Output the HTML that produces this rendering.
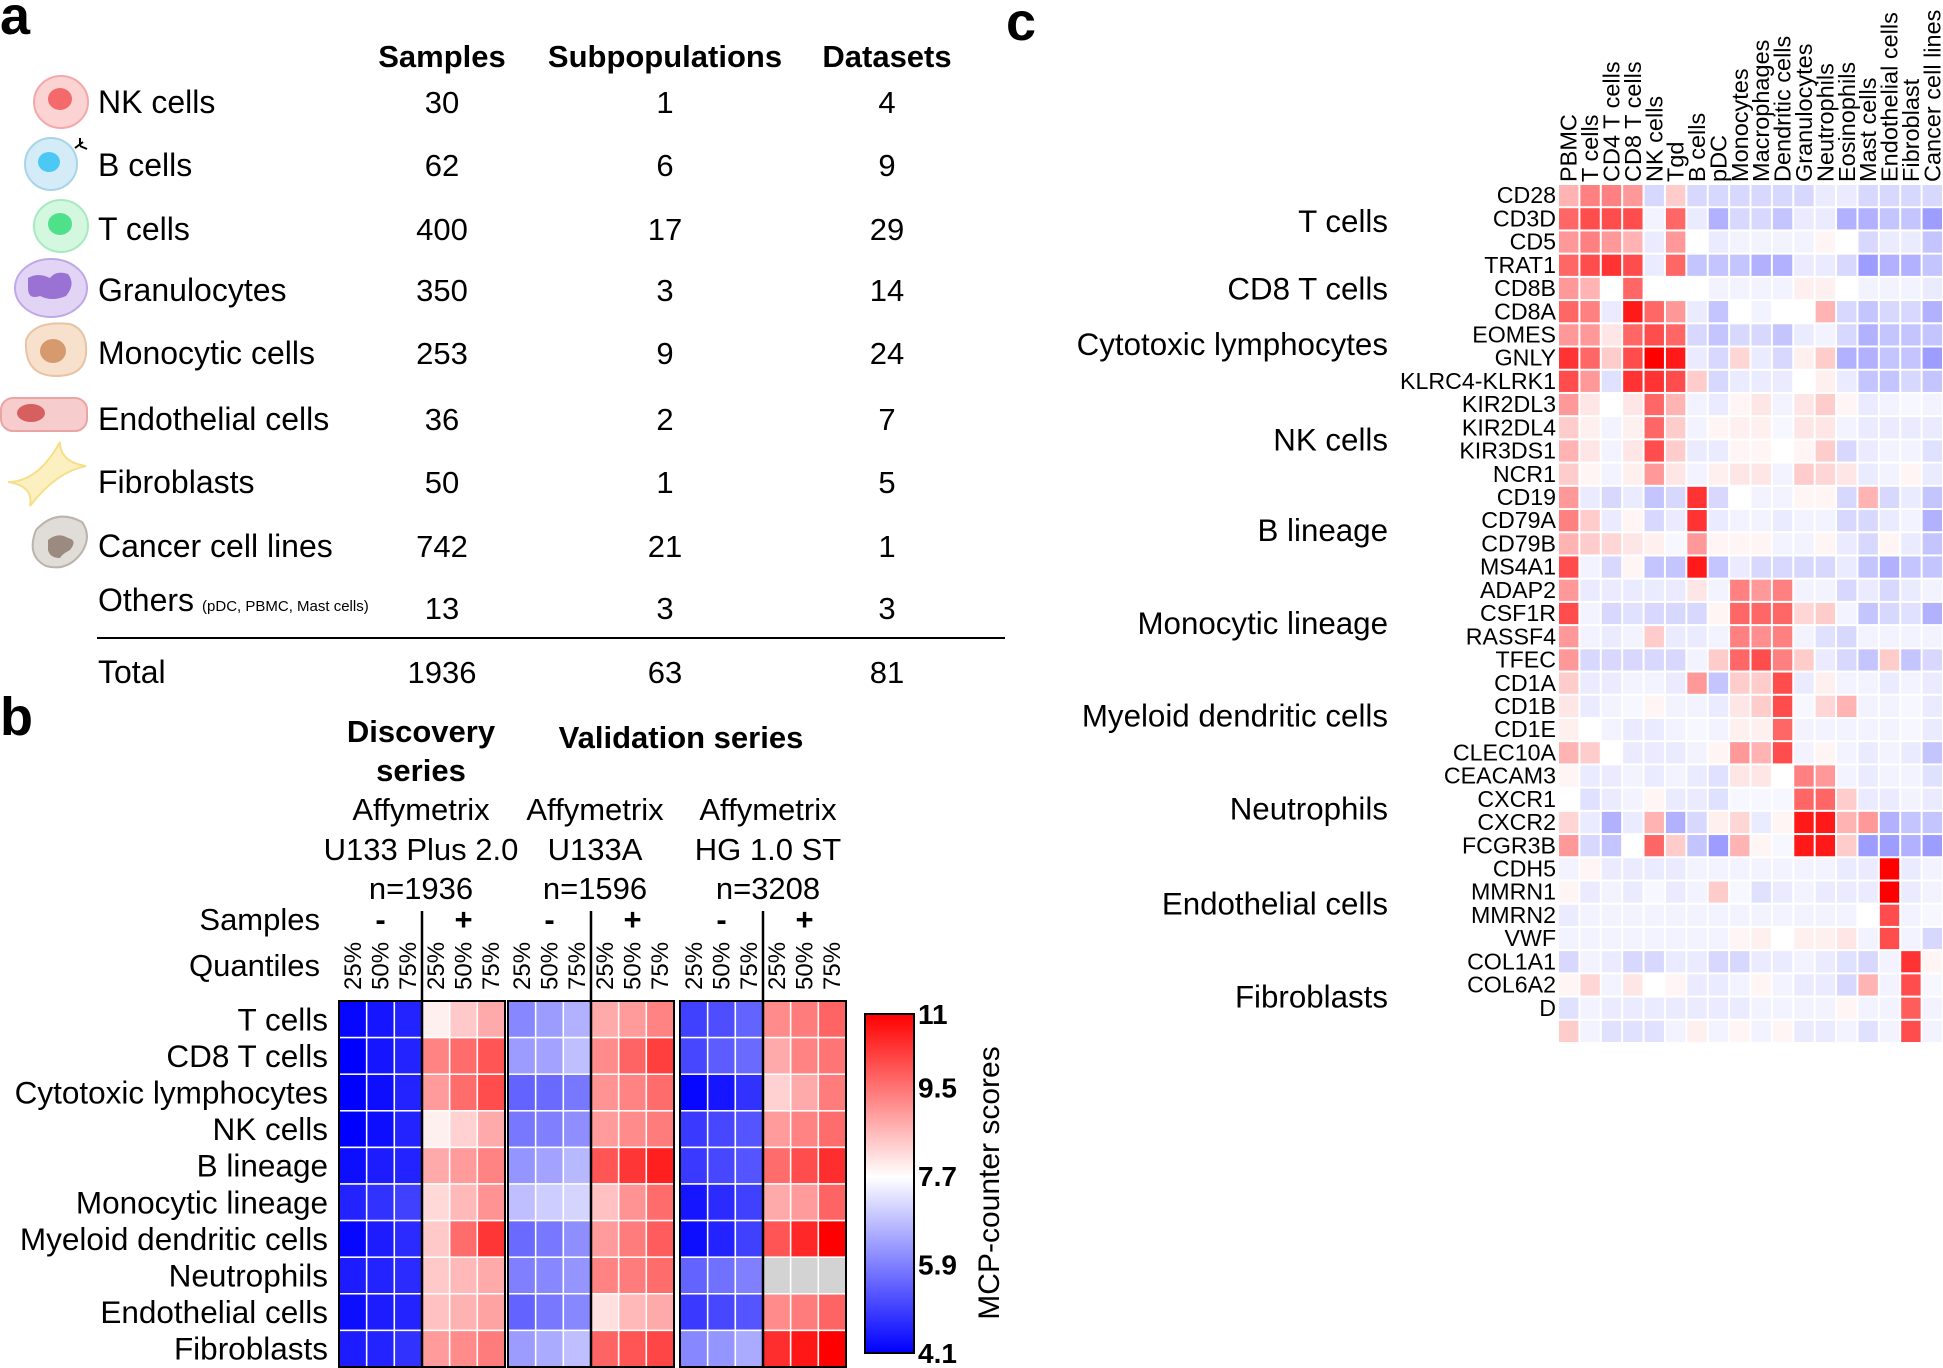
<!DOCTYPE html>
<html><head><meta charset="utf-8">
<style>
html,body{margin:0;padding:0;background:#fff;}
svg{display:block;font-family:"Liberation Sans",Arial,sans-serif;}
</style></head>
<body>
<svg id="fig" width="1943" height="1368" viewBox="0 0 1943 1368" xmlns="http://www.w3.org/2000/svg">
<defs>
<linearGradient id="cbar" x1="0" y1="1" x2="0" y2="0">
<stop offset="0" stop-color="#0000ff"/><stop offset="0.52" stop-color="#ffffff"/><stop offset="1" stop-color="#ff0000"/>
</linearGradient>
</defs>
<g id="panelA"></g>
<g id="panelB"></g>
<g id="panelC"></g>
</svg>
<script>
// ---------- Panel a data ----------
const cellTypes = ["NK cells","B cells","T cells","Granulocytes","Monocytic cells","Endothelial cells","Fibroblasts","Cancer cell lines","Others"];
const samples = [30,62,400,350,253,36,50,742,13];
const subpops = [1,6,17,3,9,2,1,21,3];
const datasets = [4,9,29,14,24,7,5,1,3];
const totals = [1936,63,81];

// ---------- Panel b data ----------
const popsB = ["T cells","CD8 T cells","Cytotoxic lymphocytes","NK cells","B lineage","Monocytic lineage","Myeloid dendritic cells","Neutrophils","Endothelial cells","Fibroblasts"];
const seriesB = ["U133 Plus 2.0","U133A","HG 1.0 ST"];
const quantLabels = ["25%","50%","75%"];
const cbTicks = [4.1,5.9,7.7,9.5,11];
// each row: [- 25,50,75, + 25,50,75]
const scoresPlus2 = [
[4.2,4.4,4.6,7.9,8.4,8.8],[4.1,4.4,4.6,9.3,9.6,9.9],[4.1,4.3,4.6,9.0,9.6,10.0],[4.1,4.3,4.6,7.9,8.3,8.8],
[4.3,4.5,4.6,8.8,9.0,9.3],[4.6,4.8,5.0,8.2,8.6,9.1],[4.2,4.5,4.7,8.4,9.6,10.3],[4.5,4.6,4.7,8.4,8.6,8.8],
[4.3,4.5,4.6,8.5,8.7,8.9],[4.5,4.6,4.8,9.0,9.2,9.4]];
const scoresU133A = [
[6.0,6.3,6.6,8.8,9.0,9.3],[6.3,6.4,6.8,9.2,9.7,10.2],[5.5,5.6,5.8,9.1,9.3,9.6],[5.8,5.9,6.1,9.0,9.2,9.4],
[6.2,6.4,6.7,9.9,10.3,10.6],[6.8,7.0,7.1,8.5,9.1,9.6],[5.6,5.8,6.1,9.0,9.4,9.8],[5.9,6.0,6.2,9.3,9.4,9.6],
[5.5,5.8,6.0,8.1,8.6,8.8],[6.3,6.5,6.8,9.7,9.9,10.1]];
const scoresHG = [
[5.0,5.2,5.5,9.2,9.4,9.7],[5.1,5.4,5.6,8.8,9.3,9.5],[4.2,4.4,4.8,8.3,8.8,9.4],[4.9,5.1,5.3,9.0,9.3,9.6],
[4.9,5.1,5.3,9.6,10.0,10.4],[4.4,4.7,5.0,8.8,9.0,9.7],[4.3,4.6,5.0,9.9,10.5,11.0],[5.5,5.7,5.9,null,null,null],
[4.9,5.1,5.3,9.2,9.4,9.7],[6.0,6.2,6.5,10.4,10.7,11.0]];

// ---------- Panel c data ----------
const colsC = ["PBMC","T cells","CD4 T cells","CD8 T cells","NK cells","Tgd","B cells","pDC","Monocytes","Macrophages","Dendritic cells","Granulocytes","Neutrophils","Eosinophils","Mast cells","Endothelial cells","Fibroblast","Cancer cell lines"];
const genesC = ["CD28","CD3D","CD5","TRAT1","CD8B","CD8A","EOMES","GNLY","KLRC4-KLRK1","KIR2DL3","KIR2DL4","KIR3DS1","NCR1","CD19","CD79A","CD79B","MS4A1","ADAP2","CSF1R","RASSF4","TFEC","CD1A","CD1B","CD1E","CLEC10A","CEACAM3","CXCR1","CXCR2","FCGR3B","CDH5","MMRN1","MMRN2","VWF","COL1A1","COL6A2","D",""];
const groupsC = ["T cells","CD8 T cells","Cytotoxic lymphocytes","NK cells","B lineage","Monocytic lineage","Myeloid dendritic cells","Neutrophils","Endothelial cells","Fibroblasts"];
const groupRows = [1.6,4.5,6.9,11.0,14.9,18.9,22.9,26.9,31.0,35.0];
const exprC = [
[1.5,2.5,2.5,2,-1,1,-1,-1,-1,-1,-1,-1,-0.5,-0.5,-1,-1,-1,-1],
[3,3.5,3.5,3.5,-0.3,3,-0.5,-2,-1,-1,-1.5,-0.5,-0.5,-2,-2,-1.5,-1.5,-2.5],
[2,2.5,2,1.5,-0.5,2,0,-0.5,-0.3,-0.3,-0.3,-0.3,0.2,0,-1,-0.5,-0.5,-1.5],
[3,3.5,4,3.5,-0.5,3,-1.5,-1.5,-1.5,-2,-2,-0.5,-0.5,-1,-2.5,-2,-2,-1.5],
[2,1.5,0,3,0,0,0,-0.3,-0.3,-0.3,-0.3,0.3,0.3,0,-0.3,-0.3,-0.3,-0.5],
[3,2.5,-0.5,4.5,3,2,-0.5,-1.5,0,-0.3,0,0,1.5,-1,-1.5,-1,-1,-2],
[2,2,0.5,3,3.5,3,-1,-1.5,-1,-1,-1.5,-0.5,-0.3,-1,-2,-1.5,-1.5,-1.5],
[4,3,1,3.5,5,4.5,-0.5,-1,0.8,-0.5,-1,0.3,1,-2,-2,-1.5,-1.5,-2.5],
[3.5,2,-0.8,4,4,3.5,1,-1,-0.5,-0.5,-0.5,0,0.3,-0.5,-1.5,-1.5,-1,-1.5],
[2,0.5,0,0.5,3,1.5,-0.3,-0.5,0.2,0.5,-0.3,0.5,1,0.2,-0.5,-0.3,-0.2,-0.3],
[1,0.3,-0.3,0.3,3,1,-0.3,0.2,0.3,0.3,-0.2,0.5,0.5,-0.3,-0.5,-0.5,-0.5,-0.5],
[1.5,0.5,-0.3,0.5,3.5,1,-0.5,-0.5,0.2,0.2,0,0.2,1,-1,-0.5,-0.3,-0.3,-0.8],
[1,0.2,-0.3,0.3,2,0.5,-0.3,0.3,0.5,0.5,-0.3,1,0.8,0.5,-0.5,-0.3,0.2,-0.5],
[2,-0.5,-1,-0.5,-1.5,-1,4,-1,0,-0.3,-0.3,0.2,0.2,-1,1.5,-1,-0.5,-1.5],
[2.5,1,-0.5,0.2,-1,-0.5,4,-0.5,-0.3,-0.3,-0.5,-0.3,-0.3,-1,-1,-0.5,-0.3,-2],
[1.5,1,0.8,0.5,0.3,-0.2,2,0.2,0.2,0.2,-0.3,-0.3,0.2,-0.5,-1,0.2,-0.5,-1.5],
[3.5,-0.3,-1,0.2,-1.5,-1.5,4.5,-1.5,-0.5,-1,-1,-1,-1,-0.5,-1.5,-2,-1.5,-1.5],
[2,-0.5,-0.5,-0.5,-0.5,-0.5,0.5,-0.3,2.5,2,2.5,-0.3,-0.3,-1,-0.5,-1,-0.5,-0.3],
[3.5,-0.3,-1,-0.8,-1,-1,-1,0.2,3,3,3,0.8,1,-0.3,-1.5,-1,-0.8,-2],
[2,-0.3,-0.5,-0.3,1,-0.5,-0.5,-0.3,2.5,2.2,2.5,-0.3,-0.8,-1,-0.3,-0.3,-0.3,-0.3],
[2,-1,-1,-1,-1,-1,-0.3,1,3,3.5,2.5,1,-0.5,-1,-1.5,1,-1.5,-1],
[1,-0.5,-0.5,-0.3,-0.3,-0.5,2,-1.5,1,1,3.5,-0.5,0.3,-0.3,-0.3,-0.5,-0.3,-0.5],
[0.5,-0.5,-0.3,-0.2,0.2,-0.3,-0.3,-0.5,0.5,1,3.5,-0.2,0.8,1.5,-0.3,-0.3,-0.2,-0.5],
[0.3,0,-0.3,-0.5,-0.5,-0.3,-0.2,-0.3,0.3,0.3,3,-0.3,-0.3,-0.3,-0.3,-0.3,-0.2,-0.5],
[1.5,1,0,-0.5,-0.5,-0.5,-0.3,0.2,2,1.5,3.5,-0.3,0.2,-0.3,-0.5,-0.3,-0.5,-1.5],
[0.2,-0.5,-0.5,-0.3,-0.5,-0.3,-0.5,-0.8,0.5,0.5,0,2.5,2,-0.3,-0.5,-0.3,-0.3,-0.8],
[0,-0.8,-0.5,-0.3,0.2,-0.5,-0.5,-0.8,-0.2,-0.2,-0.2,3,3,1,-0.5,-0.5,-0.3,-0.5],
[0.8,-0.5,-2,-0.5,1.5,-2,-1,0.3,0.8,-0.5,0.2,4.5,4.5,1.5,2,-2,-1.5,-1.5],
[2,-1,-1.5,0,3,1,-1.5,-2.5,1.5,0.2,-0.2,4.5,4.5,1,-2.5,-2.5,-2,-2.5],
[-0.3,0.2,-0.5,-0.5,-0.5,-0.5,-0.3,-0.3,-0.3,-0.3,-0.3,-0.3,-0.3,-0.5,-0.5,5,-0.5,-0.3],
[0.2,-0.5,-0.3,-0.5,-0.2,-0.5,-0.3,1,-0.2,-0.8,-0.5,-0.3,-0.5,-0.5,-0.5,5,-0.5,-0.3],
[-0.5,-0.3,-0.3,-0.3,-0.3,-0.3,-0.3,-0.3,-0.3,-0.3,-0.3,-0.3,-0.3,-0.3,0,3.5,-0.3,-0.2],
[-0.3,-0.3,-0.3,-0.3,-0.3,-0.3,-0.3,-0.3,0.2,0.3,0,0.3,0.3,0.5,-0.3,3.5,-0.3,-1],
[-1,-0.3,-0.5,-1,-1,-0.5,-0.5,-1,-1,-0.5,-0.5,-0.3,-0.5,-0.8,-1,-0.3,4,0.2],
[0.2,0.8,-0.3,0.5,0,0.2,-0.5,-0.5,-0.3,0.2,-0.3,-0.5,-0.5,-1,1.5,-0.3,3.5,-0.2],
[-0.8,-0.3,-0.5,-0.5,-0.5,-0.5,-0.5,-0.5,-0.5,-0.3,-0.3,-0.3,-0.3,0.2,-0.3,-0.3,3.2,-0.3],
[1,-0.3,-0.8,-0.8,-0.8,-0.3,0.3,-0.3,0.2,-0.3,0.2,-0.5,-0.5,-0.3,-0.8,-0.3,3.5,-0.3]];

const NS = "http://www.w3.org/2000/svg";
function mk(parent, tag, attrs, text){
  const e = document.createElementNS(NS, tag);
  for (const k in attrs) e.setAttribute(k, attrs[k]);
  if (text !== undefined) e.textContent = text;
  parent.appendChild(e);
  return e;
}
function txt(parent, x, y, s, size, anchor, weight, name){
  const t = mk(parent, "text", {x:x, y:y, "font-size":size, "text-anchor":anchor||"start", "font-weight":weight||"normal", fill:"#000"}, s);
  
  
  return t;
}

// ================= PANEL A =================
const A = document.getElementById("panelA");
txt(A, 0, 34, "a", 54, "start", "bold", "panel-a-label");
const colX = [442, 665, 887];
["Samples","Subpopulations","Datasets"].forEach((h,i)=>txt(A, colX[i], 67, h, 31, "middle", "bold", "column-header"));
const rowY = [102,165,229,290,353,419,482,546,608];
const yOf = i => rowY[i] + 11;
cellTypes.forEach((c,i)=>{
  if (c === "Others") {
    const t = txt(A, 98, yOf(i)-8, "Others", 32, "start", "normal", "row-label");
    mk(t, "tspan", {"font-size":15, dx:8}, "(pDC, PBMC, Mast cells)");
  } else txt(A, 98, yOf(i), c, 32, "start", "normal", "row-label");
  txt(A, colX[0], yOf(i), String(samples[i]), 31, "middle", "normal", "samples-value");
  txt(A, colX[1], yOf(i), String(subpops[i]), 31, "middle", "normal", "subpopulations-value");
  txt(A, colX[2], yOf(i), String(datasets[i]), 31, "middle", "normal", "datasets-value");
});
const ln = mk(A, "line", {x1:97, x2:1005, y1:638, y2:638, stroke:"#000", "stroke-width":2});


txt(A, 98, 683, "Total", 32, "start", "normal", "total-label");
totals.forEach((v,i)=>txt(A, colX[i], 683, String(v), 31, "middle", "normal", "total-value"));
function icon(name, draw){ const g = mk(A, "g", {});   draw(g); }
icon("nk-cell-icon", g=>{ mk(g,"ellipse",{cx:61,cy:102,rx:27,ry:26,fill:"#fcd3d3",stroke:"#f4a8a8","stroke-width":2}); mk(g,"ellipse",{cx:60,cy:99,rx:12,ry:11,fill:"#f46a6a"}); });
icon("b-cell-icon", g=>{ mk(g,"ellipse",{cx:51,cy:164,rx:26,ry:26,fill:"#d4ecf7",stroke:"#a8d4ea","stroke-width":2}); mk(g,"ellipse",{cx:49,cy:162,rx:11,ry:10,fill:"#4cc8f4"}); mk(g,"path",{d:"M75 148 l8 -6 M80 146 l0 -8 M80 146 l7 3",stroke:"#000","stroke-width":2,fill:"none"}); });
icon("t-cell-icon", g=>{ mk(g,"ellipse",{cx:61,cy:226,rx:27,ry:26,fill:"#d4f7e0",stroke:"#a8eac0","stroke-width":2}); mk(g,"ellipse",{cx:60,cy:224,rx:12,ry:11,fill:"#4fe08a"}); });
icon("granulocyte-icon", g=>{ mk(g,"ellipse",{cx:51,cy:288,rx:36,ry:29,fill:"#e1d4f4",stroke:"#c0a8e8","stroke-width":2}); mk(g,"path",{d:"M28 278 q10 -6 22 0 q6 -8 18 -4 q8 10 -2 22 q-14 6 -26 0 q-12 4 -12 -8 z",fill:"#9a72d4"}); });
icon("monocyte-icon", g=>{ mk(g,"path",{d:"M26 340 q8 -20 44 -16 q18 6 16 30 q-2 22 -30 22 q-32 0 -30 -36 z",fill:"#f7e0cc",stroke:"#e8c4a4","stroke-width":2}); mk(g,"ellipse",{cx:53,cy:351,rx:13,ry:12,fill:"#d69a6e"}); });
icon("endothelial-icon", g=>{ mk(g,"rect",{x:1,y:398,width:86,height:33,rx:12,fill:"#f7cccc",stroke:"#eaa4a4","stroke-width":2}); mk(g,"ellipse",{cx:31,cy:413,rx:14,ry:9,fill:"#d66060"}); });
icon("fibroblast-icon", g=>{ mk(g,"path",{d:"M8 482 q30 0 52 -40 q0 20 26 24 q-30 6 -56 40 q4 -20 -22 -24 z",fill:"#fdf0c0",stroke:"#f4e08a","stroke-width":2}); });
icon("cancer-cell-icon", g=>{ mk(g,"path",{d:"M36 530 q20 -22 46 -8 q10 14 0 30 q-14 20 -36 14 q-20 -10 -10 -36 z",fill:"#e0dcd8",stroke:"#bcb4ac","stroke-width":2}); mk(g,"path",{d:"M48 540 q10 -8 20 -2 q10 2 2 12 q-8 4 -10 8 q-10 0 -12 -8 z",fill:"#9a8a80"}); });

// ================= PANEL B =================
const B = document.getElementById("panelB");
txt(B, 0, 735, "b", 54, "start", "bold", "panel-b-label");
const bLeft = [339, 508, 680], bW = 166, bTop = 1001, bBot = 1367;
const nCols = 6, colW = bW / nCols, rowH = (bBot - bTop) / popsB.length;
const blocks = [scoresPlus2, scoresU133A, scoresHG];
const vmin = cbTicks[0], vmid = cbTicks[2], vmax = cbTicks[4];
function colorB(v){
  if (v === null) return "#d3d3d3";
  if (v >= vmid){ const t = Math.min(1,(v-vmid)/(vmax-vmid)); const c = Math.round(255*(1-t)); return `rgb(255,${c},${c})`; }
  const t = Math.min(1,(vmid-v)/(vmid-vmin)); const c = Math.round(255*(1-t)); return `rgb(${c},${c},255)`;
}
const xB = (b,j) => bLeft[b] + j*colW;
const yB = i => bTop + i*rowH;
txt(B, 421, 742, "Discovery", 31, "middle", "bold", "discovery-title");
txt(B, 421, 781, "series", 31, "middle", "bold", "discovery-title-2");
txt(B, 681, 748, "Validation series", 31, "middle", "bold", "validation-title");
const platX = [421, 595, 768];
seriesB.forEach((s,b)=>{
  txt(B, platX[b], 820, "Affymetrix", 31, "middle", "normal", "platform-name");
  txt(B, platX[b], 860, s, 31, "middle", "normal", "platform-chip");
});
["n=1936","n=1596","n=3208"].forEach((s,b)=>txt(B, platX[b], 899, s, 31, "middle", "normal", "sample-count"));
txt(B, 320, 930, "Samples", 31, "end", "normal", "samples-row-label");
txt(B, 320, 976, "Quantiles", 31, "end", "normal", "quantiles-row-label");
blocks.forEach((data,b)=>{
  txt(B, xB(b,1.5), 930, "-", 31, "middle", "bold", "negative-samples");
  txt(B, xB(b,4.5), 930, "+", 31, "middle", "bold", "positive-samples");
  for (let j=0;j<nCols;j++){
    const cx = xB(b,j) + colW/2 + 8;
    const t = txt(B, 0, 0, quantLabels[j%3], 24, "start", "normal", "quantile-label");
    t.setAttribute("transform", `translate(${cx},990) rotate(-90)`);
  }
  data.forEach((row,i)=>{
    row.forEach((v,j)=>{
      const r = mk(B, "rect", {x:xB(b,j), y:yB(i), width:colW, height:rowH, fill:colorB(v), stroke:"#fff", "stroke-width":1.5});
      
      
    });
  });
  const fr = mk(B, "rect", {x:bLeft[b], y:bTop, width:bW, height:bBot-bTop, fill:"none", stroke:"#000", "stroke-width":2});
  
  
  const sl = mk(B, "line", {x1:xB(b,3), x2:xB(b,3), y1:911, y2:bBot, stroke:"#000", "stroke-width":2.5});
  
  
});
popsB.forEach((p,i)=>txt(B, 328, yB(i)+rowH/2+11, p, 31.5, "end", "normal", "population-label"));
const cbX = 865, cbW = 49, cbTop = 1014, cbBot = 1353;
const cb = mk(B, "rect", {x:cbX, y:cbTop, width:cbW, height:cbBot-cbTop, fill:"url(#cbar)", stroke:"#000", "stroke-width":2});


const yCb = v => cbBot - (v - vmin)/(vmax - vmin)*(cbBot - cbTop);
cbTicks.forEach(v=>txt(B, 918, yCb(v)+10, String(v), 28, "start", "bold", "colorbar-tick"));
const cbl = txt(B, 0, 0, "MCP-counter scores", 30, "middle", "normal", "colorbar-title");
cbl.setAttribute("transform", "translate(999,1183) rotate(-90)");

// ================= PANEL C =================
const C = document.getElementById("panelC");
txt(C, 1006, 40, "c", 54, "start", "bold", "panel-c-label");
const cLeft = 1558, cRight = 1943, cTop = 184, cBot = 1043;
const cw = (cRight - cLeft)/colsC.length, ch = (cBot - cTop)/genesC.length;
const xC = j => cLeft + j*cw, yC = i => cTop + i*ch;
function colorC(v){
  if (v >= 0){ const t = Math.min(1,v/5); const c = Math.round(255*(1-t)); return `rgb(255,${c},${c})`; }
  const t = Math.min(1,-v/6.5); const c = Math.round(255*(1-t)); return `rgb(${c},${c},255)`;
}
colsC.forEach((c,j)=>{
  const t = txt(C, 0, 0, c, 23.5, "start", "normal", "cell-type-column-label");
  t.setAttribute("transform", `translate(${xC(j)+cw/2+8},${cTop-2}) rotate(-90)`);
});
exprC.forEach((row,i)=>{
  row.forEach((v,j)=>{
    const r = mk(C, "rect", {x:xC(j)+1, y:yC(i)+1, width:cw-2, height:ch-2, fill:colorC(v)});
    
    
  });
});
genesC.forEach((g,i)=>{ if (g) txt(C, cLeft-2, yC(i)+ch-4, g, 23.2, "end", "normal", "gene-label"); });
groupsC.forEach((g,i)=>txt(C, 1388, cTop + groupRows[i]*ch + 11, g, 31.3, "end", "normal", "signature-group-label"));
</script>
</body></html>
